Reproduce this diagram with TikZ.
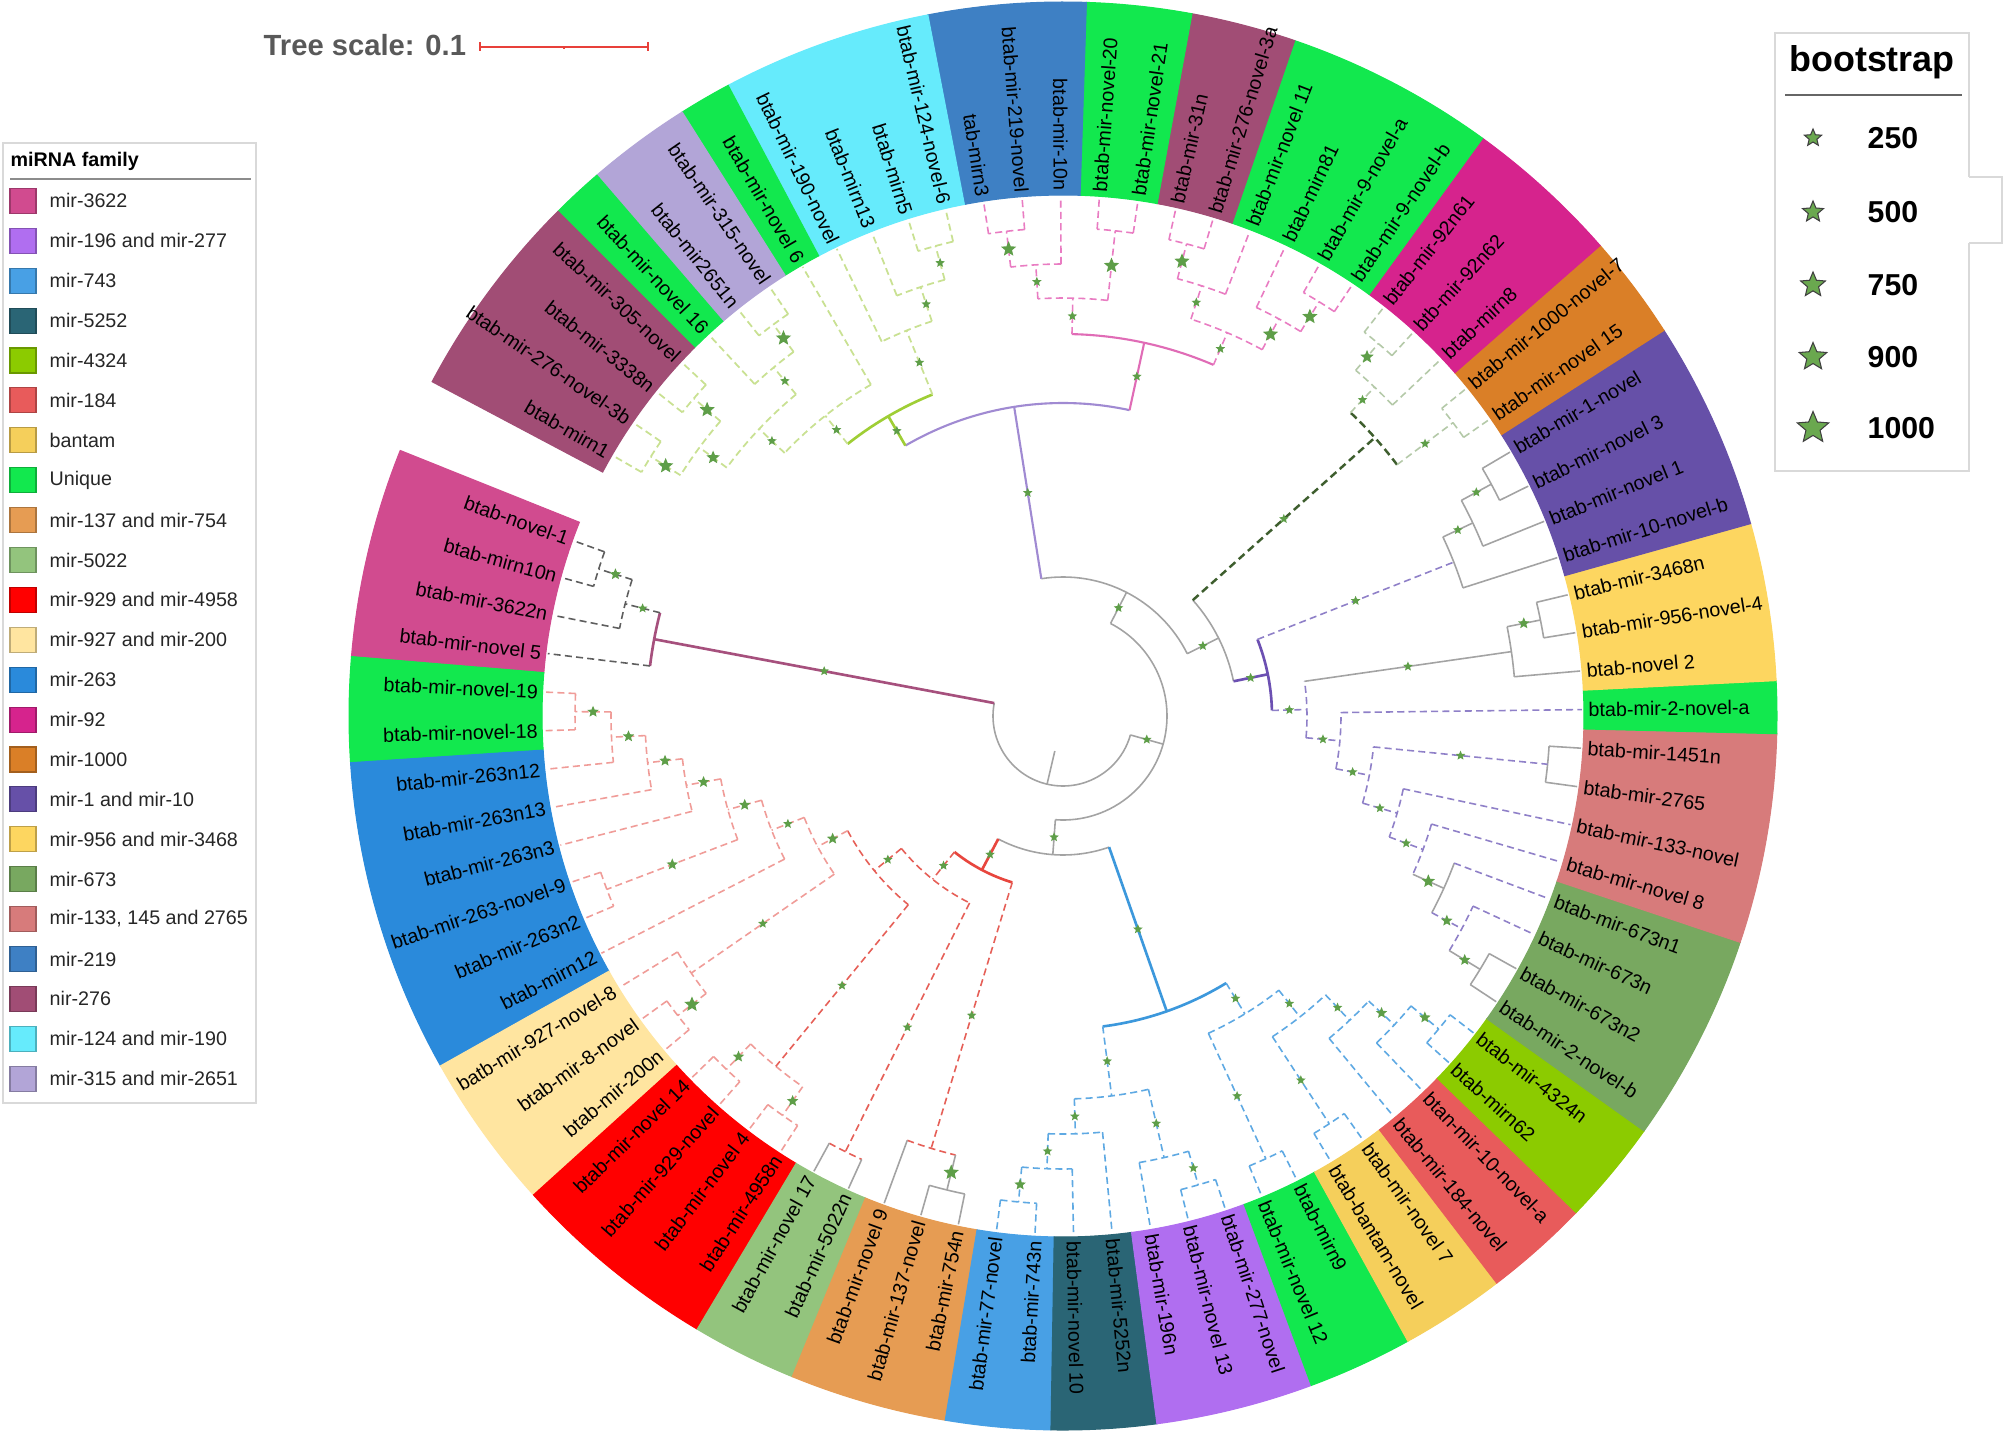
\documentclass[tikz,border=0pt]{standalone}
\usepackage{fontspec}
\setmainfont{Liberation Sans}
% band / legend colours
\definecolor{c3622}{HTML}{D14B8F}
\definecolor{c196}{HTML}{B06EF0}
\definecolor{c743}{HTML}{48A0E5}
\definecolor{c5252}{HTML}{2A6575}
\definecolor{c4324}{HTML}{8CCB00}
\definecolor{c184}{HTML}{E85B5B}
\definecolor{cbantam}{HTML}{F5CF5B}
\definecolor{cuniq}{HTML}{12E84E}
\definecolor{c137}{HTML}{E69C53}
\definecolor{c5022}{HTML}{93C47D}
\definecolor{c929}{HTML}{FF0000}
\definecolor{c927}{HTML}{FFE5A0}
\definecolor{c263}{HTML}{2A8ADB}
\definecolor{c92}{HTML}{D6238D}
\definecolor{c1000}{HTML}{DA7F27}
\definecolor{c110}{HTML}{6650A8}
\definecolor{c956}{HTML}{FDD660}
\definecolor{c673}{HTML}{78A860}
\definecolor{c133}{HTML}{D77B7B}
\definecolor{c219}{HTML}{3E80C4}
\definecolor{c276}{HTML}{A14D75}
\definecolor{c124}{HTML}{66EBFC}
\definecolor{c315}{HTML}{B2A5D7}
% line colours
\definecolor{lgray}{HTML}{A3A3A3}
\definecolor{dgray}{HTML}{5E5E5E}
\definecolor{mvc}{HTML}{A6507D}
\definecolor{rsc}{HTML}{E8463E}
\definecolor{rdc}{HTML}{E65F57}
\definecolor{rlc}{HTML}{F09C98}
\definecolor{bsc}{HTML}{3C98DC}
\definecolor{bdc}{HTML}{5EA9E3}
\definecolor{pusc}{HTML}{6C50B2}
\definecolor{pudc}{HTML}{8F80C8}
\definecolor{dgsc}{HTML}{3E5E2E}
\definecolor{dglc}{HTML}{B4C9A8}
\definecolor{pksc}{HTML}{E06CB6}
\definecolor{pkdc}{HTML}{E97CC2}
\definecolor{psc}{HTML}{A08AD2}
\definecolor{gysc}{HTML}{9FCE35}
\definecolor{gydc}{HTML}{C9E192}
\definecolor{starc}{HTML}{5E9E48}
\definecolor{starlc}{HTML}{6AA84F}
\definecolor{boxc}{HTML}{D9D9D9}
\definecolor{scalec}{HTML}{E8403A}
\definecolor{scalet}{HTML}{595959}

\tikzset{
 tgs/.style={draw=lgray, line width=0.45pt},
 tgds/.style={draw=dgray, line width=0.45pt, dash pattern=on 2pt off 1.2pt},
 tmv/.style={draw=mvc, line width=0.75pt},
 trs/.style={draw=rsc, line width=0.75pt},
 trd/.style={draw=rdc, line width=0.45pt, dash pattern=on 2pt off 1.2pt},
 trl/.style={draw=rlc, line width=0.45pt, dash pattern=on 2pt off 1.2pt},
 tbs/.style={draw=bsc, line width=0.75pt},
 tbd/.style={draw=bdc, line width=0.45pt, dash pattern=on 2pt off 1.2pt},
 tpus/.style={draw=pusc, line width=0.75pt},
 tpud/.style={draw=pudc, line width=0.45pt, dash pattern=on 2pt off 1.2pt},
 tdgs/.style={draw=dgsc, line width=0.7pt, dash pattern=on 2.2pt off 1.3pt},
 tdgl/.style={draw=dglc, line width=0.45pt, dash pattern=on 2pt off 1.2pt},
 tpks/.style={draw=pksc, line width=0.6pt},
 tpkd/.style={draw=pkdc, line width=0.45pt, dash pattern=on 2pt off 1.2pt},
 tps/.style={draw=psc, line width=0.6pt},
 tgys/.style={draw=gysc, line width=0.75pt},
 tgyd/.style={draw=gydc, line width=0.5pt, dash pattern=on 2pt off 1.2pt},
 starg/.style={fill=starc},
 lab/.style={font=\fontsize{5.6}{6.7}\selectfont, inner sep=0pt, text=black},
 leg/.style={font=\fontsize{5.6}{6.7}\selectfont, inner sep=0pt, text=black!85},
 legbox/.style={draw=boxc, line width=0.5pt},
}

\newcommand\tleaf[1]{%
  \pgfmathsetmacro\tmpa{160.3+4.264*(#1-1)}%
  \expandafter\xdef\csname taL#1\endcsname{\tmpa}%
  \expandafter\xdef\csname trL#1\endcsname{519}}
\newcommand\tang[1]{\csname ta#1\endcsname}
\newcommand\trr[1]{\csname tr#1\endcsname}
\newcommand\tstar[3]{\fill[starg, shift={({#1}:{#2})}] (90:#3) -- (126:{0.45*#3}) -- (162:#3) -- (198:{0.45*#3}) -- (234:#3) -- (270:{0.45*#3}) -- (306:#3) -- (342:{0.45*#3}) -- (18:#3) -- (54:{0.45*#3}) -- cycle;}
\newcommand\tbranch[4]{%
  \draw[#3] (\tang{#1}:#2) -- (\tang{#1}:\trr{#1});%
  \ifdim #4pt>0pt \tstar{\tang{#1}}{(#2+\trr{#1})/2}{#4}\fi}
% name, radius, child1, child2, arc style, branch style 1, branch style 2, star 1, star 2
\newcommand\tnode[9]{%
  \pgfmathsetmacro\tmpa{(\tang{#3}+\tang{#4})/2}%
  \expandafter\xdef\csname ta#1\endcsname{\tmpa}%
  \expandafter\xdef\csname tr#1\endcsname{#2}%
  \draw[#5] (\tang{#3}:#2) arc[start angle=\tang{#3}, end angle=\tang{#4}, radius=#2];%
  \tbranch{#3}{#2}{#6}{#8}%
  \tbranch{#4}{#2}{#7}{#9}}

\begin{document}
\begin{tikzpicture}[x=0.01cm,y=0.01cm]
\useasboundingbox (0,0) rectangle (2006,-1434);
\fill[white] (0,0) rectangle (2006,-1434);

% ---------- tree scale ----------
\node[anchor=west, inner sep=0pt, text=scalet, font=\bfseries\fontsize{8.3}{10}\selectfont] (tscale) at (263,-45) {Tree scale: 0.1};
\draw[scalec, line width=0.6pt] (480,-46.7) -- (648,-46.7);
\draw[scalec, line width=0.6pt] (480,-42) -- (480,-51.5) (648,-42) -- (648,-51.5) (564,-46.7) -- (564,-49.5);

% ---------- miRNA family legend ----------
\draw[legbox] (3,-143) rectangle (256,-1103);
\node[anchor=west, inner sep=0pt, font=\bfseries\fontsize{5.6}{6.7}\selectfont] (legtitle) at (10,-161) {miRNA family};
\draw[black!45, line width=0.5pt] (10,-179) -- (251,-179);
\foreach \k/\c/\t in {0/c3622/mir-3622, 1/c196/mir-196 and mir-277, 2/c743/mir-743, 3/c5252/mir-5252, 4/c4324/mir-4324, 5/c184/mir-184, 6/cbantam/bantam, 7/cuniq/Unique, 8/c137/mir-137 and mir-754, 9/c5022/mir-5022, 10/c929/mir-929 and mir-4958, 11/c927/mir-927 and mir-200, 12/c263/mir-263, 13/c92/mir-92, 14/c1000/mir-1000, 15/c110/mir-1 and mir-10, 16/c956/mir-956 and mir-3468, 17/c673/mir-673, 18/c133/{mir-133, 145 and 2765}, 19/c219/mir-219, 20/c276/nir-276, 21/c124/mir-124 and mir-190, 22/c315/mir-315 and mir-2651}{
  \pgfmathsetmacro\ly{-200.9-39.9*\k}
  \filldraw[fill=\c, draw=\c!75!black, line width=0.3pt] (10,\ly+12.5) rectangle (36,\ly-12.5);
  \node[leg, anchor=west] (leg\k) at (49,\ly) {\t};
}

% ---------- bootstrap legend ----------
\draw[legbox] (1969,-177) -- (1969,-33) -- (1775,-33) -- (1775,-471) -- (1969,-471) -- (1969,-243);
\draw[legbox] (1969,-177) -- (2002,-177) -- (2002,-243) -- (1969,-243);
\node[inner sep=0pt, font=\bfseries\fontsize{10.2}{12}\selectfont] (bstitle) at (1872,-62) {bootstrap};
\draw[black!60, line width=0.6pt] (1785,-95) -- (1962,-95);
\foreach \y/\s/\t in {138/9/250, 212/11/500, 285/13/750, 357/14.5/900, 428/16.5/1000}{
  \filldraw[fill=starlc, draw=black!75, line width=0.3pt, shift={(1813,-\y)}] (90:\s) -- (126:{0.45*\s}) -- (162:\s) -- (198:{0.45*\s}) -- (234:\s) -- (270:{0.45*\s}) -- (306:\s) -- (342:{0.45*\s}) -- (18:\s) -- (54:{0.45*\s}) -- cycle;
  \node[anchor=west, inner sep=0pt, font=\bfseries\fontsize{8.6}{10}\selectfont] (bs\t) at (1867,-\y) {\t};
}

% ---------- circular tree ----------
\begin{scope}[shift={(1063,-716)}]
\foreach \i in {1,...,83} {\tleaf{\i}}

% coloured ranges
\foreach \i/\j/\c in {1/4/c3622,5/6/cuniq,7/12/c263,13/15/c927,16/19/c929,20/21/c5022,22/24/c137,25/26/c743,27/28/c5252,29/31/c196,32/33/cuniq,34/35/cbantam,36/37/c184,38/39/c4324,40/43/c673,44/47/c133,48/48/cuniq,49/51/c956,52/55/c110,56/57/c1000,58/60/c92,61/64/cuniq,65/66/c276,67/68/cuniq,69/71/c219,72/75/c124,76/76/cuniq,77/78/c315,79/79/cuniq,80/83/c276}{
  \pgfmathsetmacro\bga{160.3+4.264*(\i-1)-2.132}
  \pgfmathsetmacro\bgb{160.3+4.264*(\j-1)+2.132}
  \filldraw[fill=\c, draw=\c, line width=0.3pt] (\bga:521) arc[start angle=\bga, end angle=\bgb, radius=521] -- (\bgb:714) arc[start angle=\bgb, end angle=\bga, radius=714] -- cycle;
}

% mir-3622 clade
\tnode{m12}{487}{L1}{L2}{tgds}{tgds}{tgds}{0}{0}
\tnode{m123}{452}{m12}{L3}{tgds}{tgds}{tgds}{6}{0}
\tnode{MA}{416}{m123}{L4}{tmv}{tgds}{tgds}{5}{0}
% red clade
\tnode{r56}{488}{L5}{L6}{trl}{trl}{trl}{0}{0}
\tnode{r7}{452}{r56}{L7}{trl}{trl}{trl}{6}{0}
\tnode{r8}{418}{r7}{L8}{trl}{trl}{trl}{6}{0}
\tnode{r9}{383}{r8}{L9}{trl}{trl}{trl}{6}{0}
\tnode{r1011}{488}{L10}{L11}{trl}{trl}{trl}{0}{0}
\tnode{r10}{348}{r9}{r1011}{trl}{trl}{trl}{6}{6}
\tnode{r12}{313}{r10}{L12}{trl}{trl}{trl}{6}{0}
\tnode{r1415}{488}{L14}{L15}{trl}{trl}{trl}{0}{0}
\tnode{r13}{452}{L13}{r1415}{trl}{trl}{trl}{0}{8}
\tnode{Ra1}{278}{r12}{r13}{trl}{trl}{trl}{5}{5}
\tnode{r1617}{488}{L16}{L17}{trl}{trl}{trl}{0}{0}
\tnode{r1819}{488}{L18}{L19}{trl}{trl}{trl}{0}{0}
\tnode{Ra2}{453}{r1617}{r1819}{trl}{trl}{trl}{6}{6}
\tnode{Ra}{244}{Ra1}{Ra2}{trd}{trl}{trd}{6}{5}
\tnode{r2021}{487}{L20}{L21}{trd}{tgs}{tgs}{0}{0}
\tnode{R1}{209}{Ra}{r2021}{trd}{trd}{trd}{5}{5}
\tnode{r2324}{488}{L23}{L24}{tgs}{tgs}{tgs}{0}{0}
\tnode{R2}{452}{L22}{r2324}{trd}{tgs}{tgs}{0}{8}
\tnode{R}{174}{R1}{R2}{trs}{trd}{trd}{5}{5}
% blue clade
\tnode{b2526}{488}{L25}{L26}{tbd}{tbd}{tbd}{0}{0}
\tnode{B7}{453}{b2526}{L27}{tbd}{tbd}{tbd}{6}{0}
\tnode{B8}{418}{B7}{L28}{tbd}{tbd}{tbd}{5}{0}
\tnode{b3031}{488}{L30}{L31}{tbd}{tbd}{tbd}{0}{0}
\tnode{B6}{453}{L29}{b3031}{tbd}{tbd}{tbd}{0}{5}
\tnode{B5}{383}{B8}{B6}{tbd}{tbd}{tbd}{5}{5}
\tnode{b3233}{487}{L32}{L33}{tbd}{tbd}{tbd}{0}{0}
\tnode{b3435}{487}{L34}{L35}{tbd}{tbd}{tbd}{0}{0}
\tnode{b3839}{489}{L38}{L39}{tbd}{tbd}{tbd}{0}{0}
\tnode{B4}{453}{L37}{b3839}{tbd}{tbd}{tbd}{0}{6}
\tnode{B3}{418}{L36}{B4}{tbd}{tbd}{tbd}{0}{6}
\tnode{B2}{383}{b3435}{B3}{tbd}{tbd}{tbd}{5}{5}
\tnode{B1}{349}{b3233}{B2}{tbd}{tbd}{tbd}{5}{5}
\tnode{BL}{313}{B5}{B1}{tbs}{tbd}{tbd}{5}{5}
\tnode{Y}{139}{R}{BL}{tgs}{trs}{tbs}{5}{5}
% purple clade
\tnode{p4041}{488}{L40}{L41}{tgs}{tgs}{tgs}{0}{0}
\tnode{N452}{452}{p4041}{L42}{tpud}{tgs}{tpud}{6}{0}
\tnode{N418}{418}{L43}{N452}{tgs}{tpud}{tpud}{0}{6}
\tnode{N384}{384}{L44}{N418}{tpud}{tpud}{tgs}{0}{7}
\tnode{N348}{348}{L45}{N384}{tpud}{tpud}{tpud}{0}{5}
\tnode{p4647}{487}{L46}{L47}{tgs}{tgs}{tgs}{0}{0}
\tnode{N312}{312}{N348}{p4647}{tpud}{tpud}{tpud}{5}{5}
\tnode{N278}{278}{N312}{L48}{tpud}{tpud}{tpud}{5}{0}
\tnode{p5051}{487}{L50}{L51}{tgs}{tgs}{tgs}{0}{0}
\tnode{g49}{453}{L49}{p5051}{tgs}{tgs}{tgs}{0}{6}
\tnode{PD0}{244}{N278}{g49}{tpud}{tpud}{tgs}{5}{5}
\tnode{p5455}{487}{L54}{L55}{tgs}{tgs}{tgs}{0}{0}
\tnode{g53}{453}{L53}{p5455}{tgs}{tgs}{tgs}{0}{5}
\tnode{g52}{420}{L52}{g53}{tgs}{tgs}{tgs}{0}{5}
\tnode{PU}{209}{PD0}{g52}{tpus}{tpud}{tpud}{5}{5}
% dark green clade
\tnode{d5657}{488}{L56}{L57}{tdgl}{tdgl}{tdgl}{0}{0}
\tnode{d5960}{488}{L59}{L60}{tdgl}{tdgl}{tdgl}{0}{0}
\tnode{DG1}{453}{L58}{d5960}{tdgl}{tdgl}{tdgl}{0}{7}
\tnode{DG}{418}{d5657}{DG1}{tdgs}{tdgl}{tdgl}{5}{5}
\tnode{W}{174}{PU}{DG}{tgs}{tpus}{tdgs}{5}{5}
% pink clade
\tnode{k6162}{487}{L61}{L62}{tpkd}{tpkd}{tpkd}{0}{0}
\tnode{PK2b}{452}{k6162}{L63}{tpkd}{tpkd}{tpkd}{8}{0}
\tnode{k6566}{488}{L65}{L66}{tpkd}{tpkd}{tpkd}{0}{0}
\tnode{PK2a}{452}{L64}{k6566}{tpkd}{tpkd}{tpkd}{0}{8}
\tnode{PK2}{417}{PK2b}{PK2a}{tpkd}{tpkd}{tpkd}{8}{5}
\tnode{k6768}{488}{L67}{L68}{tpkd}{tpkd}{tpkd}{0}{0}
\tnode{k7071}{488}{L70}{L71}{tpkd}{tpkd}{tpkd}{0}{0}
\tnode{kX}{452}{L69}{k7071}{tpkd}{tpkd}{tpkd}{0}{8}
\tnode{PK1}{418}{k6768}{kX}{tpkd}{tpkd}{tpkd}{8}{5}
\tnode{PK}{382}{PK2}{PK1}{tpks}{tpkd}{tpkd}{5}{5}
% yellow-green clade
\tnode{g7273}{487}{L72}{L73}{tgyd}{tgyd}{tgyd}{0}{0}
\tnode{G1b}{452}{g7273}{L74}{tgyd}{tgyd}{tgyd}{5}{0}
\tnode{G1}{416}{G1b}{L75}{tgyd}{tgyd}{tgyd}{5}{0}
\tnode{g7778}{487}{L77}{L78}{tgyd}{tgyd}{tgyd}{0}{0}
\tnode{Lg}{453}{g7778}{L79}{tgyd}{tgyd}{tgyd}{8}{0}
\tnode{m8081}{487}{L80}{L81}{tgyd}{tgyd}{tgyd}{0}{0}
\tnode{m8283}{487}{L82}{L83}{tgyd}{tgyd}{tgyd}{0}{0}
\tnode{M}{452}{m8081}{m8283}{tgyd}{tgyd}{tgyd}{8}{8}
\tnode{G2b}{418}{Lg}{M}{tgyd}{tgyd}{tgyd}{5}{7}
\tnode{G2}{383}{L76}{G2b}{tgyd}{tgyd}{tgyd}{0}{5}
\tnode{G}{347}{G1}{G2}{tgys}{tgyd}{tgyd}{5}{5}
% backbone
\tnode{P}{313}{PK}{G}{tps}{tpks}{tgys}{5}{5}
\tnode{Z}{139}{W}{P}{tgs}{tgs}{tps}{5}{5}
\tnode{Q}{104}{Y}{Z}{tgs}{tgs}{tgs}{5}{5}
\tnode{root}{70}{MA}{Q}{tgs}{tmv}{tgs}{5}{5}
\draw[tgs] (\tang{root}:36) -- (\tang{root}:70);

% leaf labels
\foreach \i/\t in {1/btab-novel-1, 2/btab-mirn10n, 3/btab-mir-3622n, 4/btab-mir-novel 5, 5/btab-mir-novel-19, 6/btab-mir-novel-18, 7/btab-mir-263n12, 8/btab-mir-263n13, 9/btab-mir-263n3, 10/btab-mir-263-novel-9, 11/btab-mir-263n2, 12/btab-mirn12, 13/batb-mir-927-novel-8, 14/btab-mir-8-novel, 15/btab-mir-200n, 16/btab-mir-novel 14, 17/btab-mir-929-novel, 18/btab-mir-novel 4, 19/btab-mir-4958n, 20/btab-mir-novel 17, 21/btab-mir-5022n, 22/btab-mir-novel 9, 23/btab-mir-137-novel, 24/btab-mir-754n, 25/btab-mir-77-novel, 26/btab-mir-743n, 27/btab-mir-novel 10, 28/btab-mir-5252n, 29/btab-mir-196n, 30/btab-mir-novel 13, 31/btab-mir-277-novel, 32/btab-mir-novel 12, 33/btab-mirn9, 34/btab-bantam-novel, 35/btab-mir-novel 7, 36/btab-mir-184-novel, 37/btan-mir-10-novel-a, 38/btab-mirn62, 39/btab-mir-4324n, 40/btab-mir-2-novel-b, 41/btab-mir-673n2, 42/btab-mir-673n, 43/btab-mir-673n1, 44/btab-mir-novel 8, 45/btab-mir-133-novel, 46/btab-mir-2765, 47/btab-mir-1451n, 48/btab-mir-2-novel-a, 49/btab-novel 2, 50/btab-mir-956-novel-4, 51/btab-mir-3468n, 52/btab-mir-10-novel-b, 53/btab-mir-novel 1, 54/btab-mir-novel 3, 55/btab-mir-1-novel, 56/btab-mir-novel 15, 57/btab-mir-1000-novel-7, 58/btab-mirn8, 59/btb-mir-92n62, 60/btab-mir-92n61, 61/btab-mir-9-novel-b, 62/btab-mir-9-novel-a, 63/btab-mirn81, 64/btab-mir-novel 11, 65/btab-mir-276-novel-3a, 66/btab-mir-31n, 67/btab-mir-novel-21, 68/btab-mir-novel-20, 69/btab-mir-10n, 70/btab-mir-219-novel, 71/tab-mirn3, 72/btab-mir-124-novel-6, 73/btab-mirn5, 74/btab-mirn13, 75/btab-mir-190-novel, 76/btab-mir-novel 6, 77/btab-mir-315-novel, 78/btab-mir2651n, 79/btab-mir-novel 16, 80/btab-mir-305-novel, 81/btab-mir-3338n, 82/btab-mir-276-novel-3b, 83/btab-mirn1}{
  \pgfmathsetmacro\labang{160.3+4.264*(\i-1)}
  \pgfmathtruncatemacro\labside{cos(\labang)>=0 ? 1 : 0}
  \ifnum\labside=1
    \node[lab, anchor=west, rotate=\labang] (lab\i) at (\labang:525) {\t};
  \else
    \node[lab, anchor=east, rotate=\labang+180] (lab\i) at (\labang:525) {\t};
  \fi
}
\end{scope}
\end{tikzpicture}
\end{document}
